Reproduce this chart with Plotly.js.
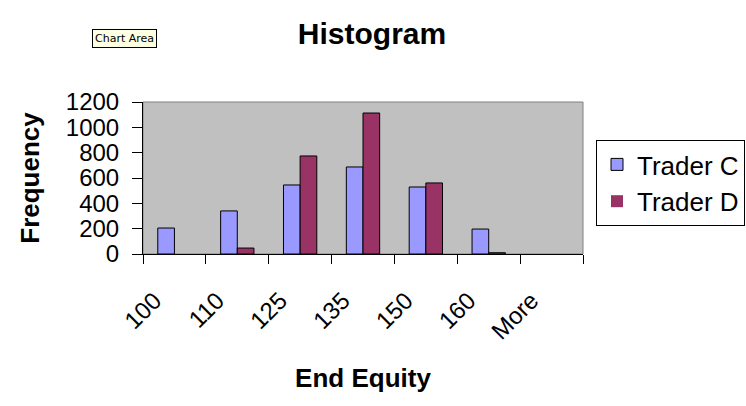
<!DOCTYPE html>
<html>
<head>
<meta charset="utf-8">
<script src="https://cdn.plot.ly/plotly-3.0.1.min.js"></script>
<style>html,body{margin:0;padding:0;background:#fff;}#chart{width:746px;height:406px;}</style>
</head>
<body>
<div id="chart"></div>
<script>
const categories = ["100", "110", "125", "135", "150", "160", "More"];
const traderC = [205, 340, 545, 687, 529, 197, 0];
const traderD = [0, 47, 774, 1113, 561, 10, 0];
const yTicks = [0, 200, 400, 600, 800, 1000, 1200];

const FONT = "Liberation Sans, Arial, sans-serif";
const outline = vals => vals.map(v => (v > 0 ? 1 : 0));

const data = [
  {type: "bar", name: "Trader C", x: categories, y: traderC, legendgroup: "c",
   marker: {color: "#9999FF", line: {color: "#000000", width: outline(traderC)}}},
  {type: "bar", name: "Trader D", x: categories, y: traderD, legendgroup: "d",
   marker: {color: "#993366", line: {color: "#000000", width: outline(traderD)}}}
];

const layout = {
  width: 746, height: 406,
  margin: {l: 143, r: 163, t: 102, b: 152, autoexpand: false},
  paper_bgcolor: "#ffffff",
  plot_bgcolor: "#C0C0C0",
  font: {family: FONT, color: "#000000", size: 24},
  barmode: "group",
  bargap: 0.47,
  bargroupgap: 0,
  showlegend: true,
  title: {text: "<b>Histogram</b>", font: {family: FONT, size: 30, color: "#000"},
          xref: "container", x: 372/746, xanchor: "center",
          yref: "container", y: 1 - 33/406, yanchor: "middle"},
  xaxis: {
    type: "category", categoryorder: "array", categoryarray: categories,
    tickson: "boundaries", ticks: "outside", ticklen: 9, tickcolor: "#000",
    tickangle: -45, tickfont: {family: FONT, size: 24},
    ticklabelshift: -20, ticklabelstandoff: 22,
    showline: true, linecolor: "#000", linewidth: 1,
    showgrid: false, zeroline: false, automargin: false,
    title: {text: "<b>End Equity</b>", font: {family: FONT, size: 26}, standoff: 25}
  },
  yaxis: {
    range: [0, 1200], tickvals: yTicks, ticktext: yTicks.map(String),
    ticks: "outside", ticklen: 10, tickcolor: "#000",
    tickfont: {family: FONT, size: 24}, ticklabelstandoff: 8,
    showline: true, linecolor: "#000", linewidth: 1,
    showgrid: false, zeroline: false, automargin: false,
    title: {text: "<b>Frequency</b>", font: {family: FONT, size: 26}, standoff: 18}
  },
  legend: {
    x: (596 - 143) / 440, xanchor: "left",
    y: (254 - 140) / 152, yanchor: "top",
    bgcolor: "#ffffff", bordercolor: "#000000", borderwidth: 1,
    font: {family: FONT, size: 26},
    traceorder: "normal"
  },
  shapes: [
    {type: "rect", xref: "paper", yref: "paper", x0: 0, x1: 1, y0: 0, y1: 1,
     line: {color: "#808080", width: 1}, layer: "below"}
  ],
  annotations: [
    {text: "Chart Area", xref: "paper", yref: "paper",
     x: (124 - 143) / 440, y: (254 - 38) / 152, xanchor: "center", yanchor: "middle",
     showarrow: false, font: {family: "DejaVu Sans, sans-serif", size: 11, color: "#000"},
     bgcolor: "#FFFFE1", bordercolor: "#000000", borderwidth: 1, borderpad: 2}
  ]
};

Plotly.newPlot("chart", data, layout, {displayModeBar: false, staticPlot: true});
</script>
</body>
</html>
